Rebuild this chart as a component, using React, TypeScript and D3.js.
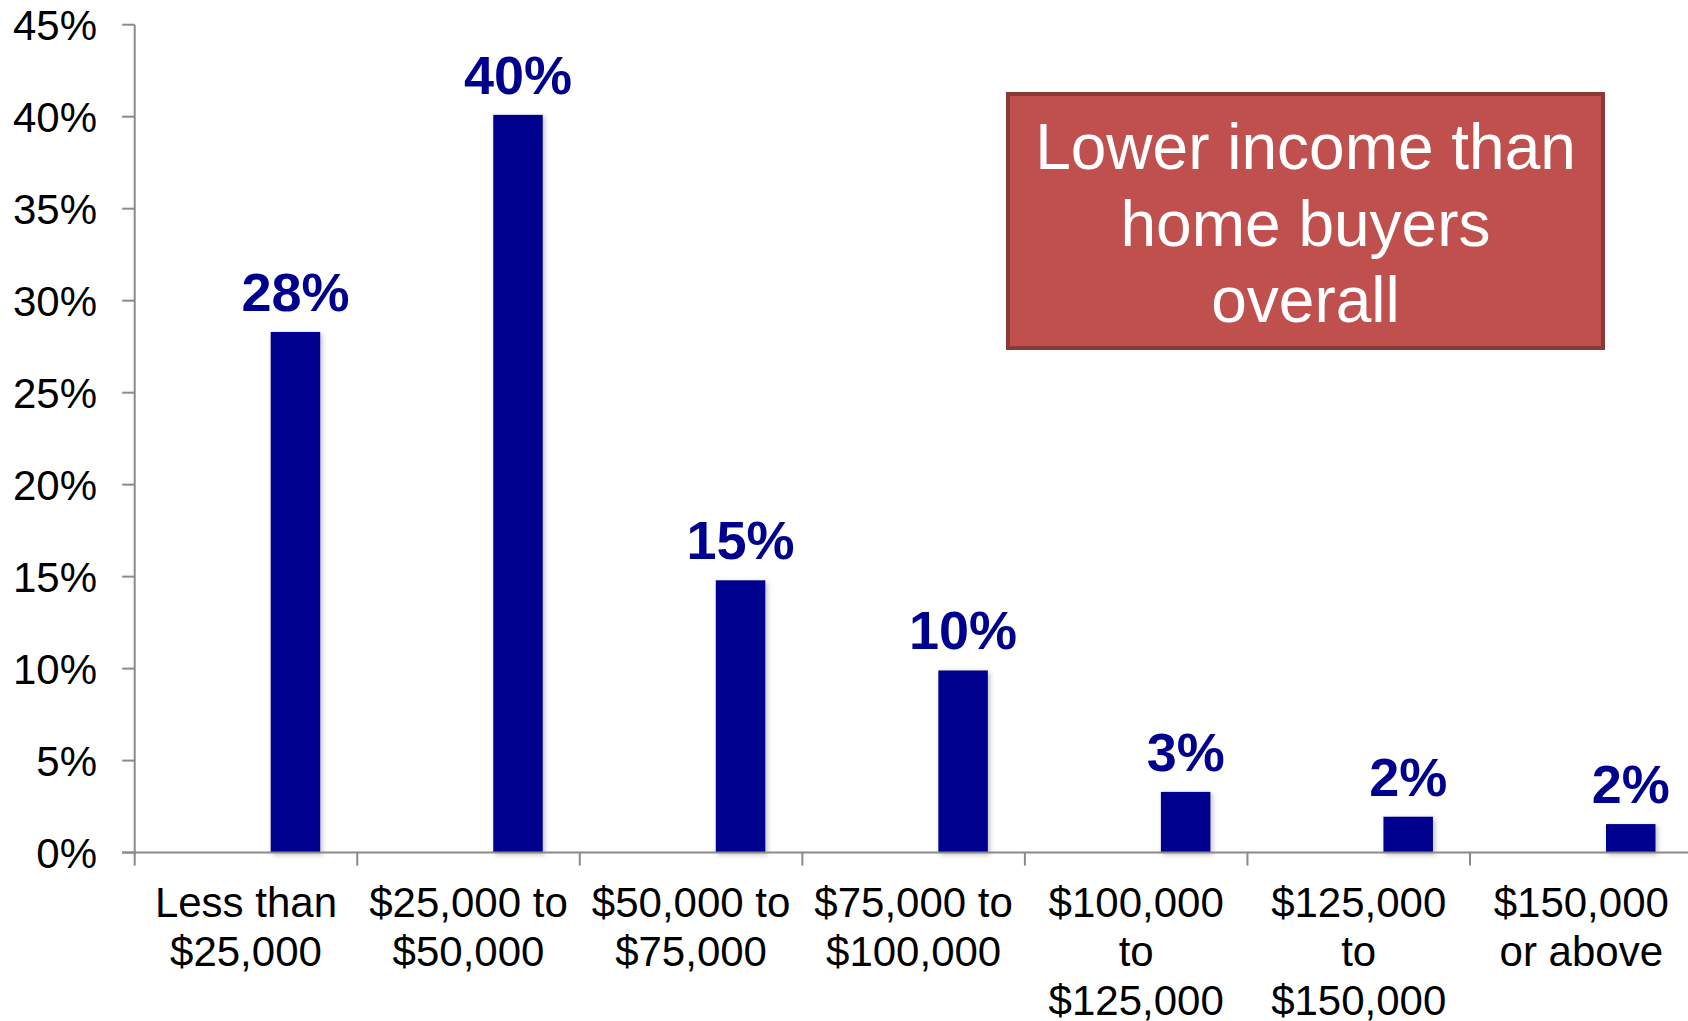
import React from "react";
import * as d3 from "d3";

const categories: string[][] = [
  ["Less than", "$25,000"],
  ["$25,000 to", "$50,000"],
  ["$50,000 to", "$75,000"],
  ["$75,000 to", "$100,000"],
  ["$100,000", "to", "$125,000"],
  ["$125,000", "to", "$150,000"],
  ["$150,000", "or above"],
];
const values: number[] = [28.3, 40.1, 14.8, 9.9, 3.3, 1.95, 1.55];
const valueLabels: string[] = ["28%", "40%", "15%", "10%", "3%", "2%", "2%"];
const yTicks: number[] = [0, 5, 10, 15, 20, 25, 30, 35, 40, 45];
const calloutLines: string[] = ["Lower income than", "home buyers", "overall"];

const W = 1688;
const H = 1021;
const FONT = "'Liberation Sans', Arial, Helvetica, sans-serif";

export default function App() {
  const x0 = 134.7;
  const step = 222.55;
  const keys = categories.map((c) => c.join(" "));
  const x = d3.scaleBand<string>().domain(keys).range([x0, x0 + step * keys.length]).padding(0);
  const y = d3.scaleLinear().domain([0, 45]).range([852.6, 24.7]);
  const barOffset = 136 / step;
  const barWidth = 49.5 / step;
  const axisColor = "#8a8a8a";

  return (
    <svg
      width={W}
      height={H}
      style={{ position: "absolute", left: 0, top: 0, background: "#fff" }}
      fontFamily={FONT}
    >
      <defs>
        <filter id="shadow" x="-20%" y="-20%" width="150%" height="150%">
          <feDropShadow dx="2" dy="2" stdDeviation="2.5" floodColor="#000" floodOpacity="0.25" />
        </filter>
      </defs>
      {/* bars */}
      {values.map((v, i) => {
        const bx = (x(keys[i]) as number) + barOffset * x.bandwidth();
        const bw = barWidth * x.bandwidth();
        return (
          <g key={i}>
            <rect
              x={bx}
              y={y(v)}
              width={bw}
              height={y(0) - y(v)}
              fill="#00008e"
              filter="url(#shadow)"
            />
            <text
              x={bx + bw / 2}
              y={y(v) - 21}
              textAnchor="middle"
              fontWeight="bold"
              fontSize={54}
              fill="#00008e"
            >
              {valueLabels[i]}
            </text>
          </g>
        );
      })}
      {/* y axis */}
      <line x1={x0} x2={x0} y1={y(45)} y2={y(0)} stroke={axisColor} strokeWidth={2} />
      {yTicks.map((t) => (
        <g key={t}>
          <line x1={x0 - 12.5} x2={x0} y1={y(t)} y2={y(t)} stroke={axisColor} strokeWidth={2} />
          <text x={97} y={y(t)} dy="0.36em" textAnchor="end" fontSize={42} fill="#000">
            {t + "%"}
          </text>
        </g>
      ))}
      {/* x axis */}
      <line x1={x0 - 12.5} x2={W} y1={y(0)} y2={y(0)} stroke={axisColor} strokeWidth={2} />
      {keys.map((k, i) => (
        <line
          key={"t" + i}
          x1={(x(k) as number)}
          x2={(x(k) as number)}
          y1={y(0)}
          y2={y(0) + 13}
          stroke={axisColor}
          strokeWidth={2}
        />
      ))}
      {categories.map((lines, i) => (
        <text
          key={"c" + i}
          x={(x(keys[i]) as number) + x.bandwidth() / 2}
          y={917}
          textAnchor="middle"
          fontSize={42}
          fill="#000"
        >
          {lines.map((l, j) => (
            <tspan key={j} x={(x(keys[i]) as number) + x.bandwidth() / 2} y={917 + j * 49}>
              {l}
            </tspan>
          ))}
        </text>
      ))}
      {/* callout box */}
      <rect x={1008} y={94} width={595} height={254} fill="#c0504d" stroke="#8c3836" strokeWidth={4} />
      {calloutLines.map((l, i) => (
        <text key={"b" + i} x={1305.5} y={169 + i * 76.5} textAnchor="middle" fontSize={64} fill="#fff">
          {l}
        </text>
      ))}
    </svg>
  );
}
